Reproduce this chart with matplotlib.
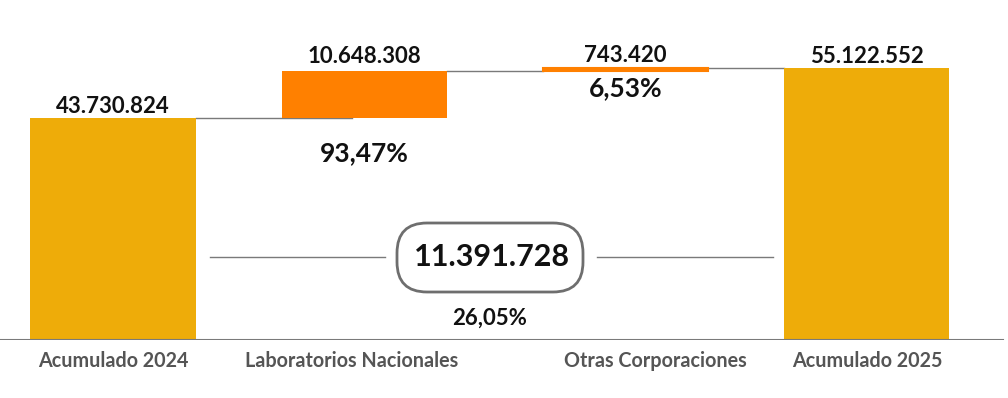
import matplotlib
matplotlib.use("Agg")
import matplotlib.pyplot as plt
from matplotlib.patches import FancyBboxPatch
from matplotlib.transforms import blended_transform_factory, IdentityTransform

# ---- data ----
categories = ["Acumulado 2024", "Laboratorios Nacionales", "Otras Corporaciones", "Acumulado 2025"]
start_total = 43730824
deltas = [10648308, 743420]          # Laboratorios Nacionales, Otras Corporaciones
end_total = 55122552
delta_pcts = ["93,47%", "6,53%"]
total_change = 11391728
total_change_pct = "26,05%"

# ---- style ----
GOLD = "#EEAC09"
ORANGE = "#FF8000"
LINE = "#7a7a7a"
TXT = "#111111"
CAT = "#555555"
FONT = "Lato"

W, H = 1008, 398
fig = plt.figure(figsize=(W / 100, H / 100), dpi=100)
fig.patch.set_facecolor("white")

BASE_PX = 340
K = 4.39e-6            # pixels per unit
FLOOR = -6.84e6        # value at the baseline
ax = fig.add_axes([0, (H - BASE_PX) / H, 1, BASE_PX / H])
ax.set_ylim(FLOOR, FLOOR + BASE_PX / K)
SP = 251.3
ax.set_xlim(-113 / SP, (W - 113) / SP)
ax.axis("off")

xpos = [0, 1, 2.04, 3]
bw = 0.657

# totals
tot_vals = [start_total, end_total]
for xi, v in zip([xpos[0], xpos[3]], tot_vals):
    ax.bar(xi, v - FLOOR, bottom=FLOOR, width=bw, color=GOLD, zorder=2)

# deltas
cum = start_total
tops = []
for i, d in enumerate(deltas):
    ax.bar(xpos[i + 1], d, bottom=cum, width=bw, color=ORANGE, edgecolor=ORANGE,
           linewidth=1.5 if i == 1 else 0, zorder=2)
    tops.append((cum, cum + d))
    cum += d

# connectors
ax.plot([xpos[0] + bw / 2, xpos[1] - 0.05], [start_total] * 2, color=LINE, lw=1, zorder=1)
ax.plot([xpos[1] + bw / 2, xpos[2] - bw / 2], [tops[0][1]] * 2, color=LINE, lw=1, zorder=1)
ax.plot([xpos[2] + bw / 2, xpos[3] - bw / 2], [tops[1][1]] * 2, color=LINE, lw=1, zorder=1)

# baseline
ax.axhline(FLOOR, xmin=0, xmax=1003 / W, color=LINE, lw=1.5, zorder=3)

def fmt(n):
    return f"{n:,}".replace(",", ".")

# value labels
lab_kw = dict(ha="center", va="baseline", fontsize=16, fontweight="bold", color=TXT, family=FONT)
ax.annotate(fmt(start_total), (xpos[0], start_total), xytext=(0, 5), textcoords="offset pixels", **lab_kw)
ax.annotate(fmt(end_total), (xpos[3], end_total), xytext=(0, 5), textcoords="offset pixels", **lab_kw)
for i, d in enumerate(deltas):
    ax.annotate(fmt(d), (xpos[i + 1], tops[i][1]), xytext=(0, 8 if i == 0 else 6),
                textcoords="offset pixels", **lab_kw)

# percentage labels under delta bars
pct_off = [-35, -17]
for i, p in enumerate(delta_pcts):
    ax.annotate(p, (xpos[i + 1], tops[i][0]), xytext=(0, pct_off[i]),
                textcoords="offset pixels", ha="center", va="center", fontsize=19,
                fontweight="bold", color=TXT, family=FONT)

# category labels
tr = blended_transform_factory(ax.transData, fig.transFigure)
label_dx = [0, -0.05, 0.12, 0]
for xi, c, dx in zip(xpos, categories, label_dx):
    ax.text(xi + dx, 1 - 367 / H, c, transform=tr, ha="center", va="baseline",
            fontsize=14.2, fontweight="bold", color=CAT, family=FONT)

# total change box
ident = IdentityTransform()
cy = H - 257
box = FancyBboxPatch((397, H - 292), 186, 69, boxstyle="round,pad=0,rounding_size=30",
                     transform=ident, fc="white", ec="#6e6e6e", lw=2, zorder=4)
fig.patches.append(box)
fig.add_artist(plt.Line2D([210, 385], [cy, cy], transform=ident, color=LINE, lw=1))
fig.add_artist(plt.Line2D([597, 773], [cy, cy], transform=ident, color=LINE, lw=1))
fig.text(492 / W, cy / H, fmt(total_change), ha="center", va="center", fontsize=22,
         fontweight="bold", color=TXT, family=FONT, zorder=5)
fig.text(490 / W, (H - 318) / H, total_change_pct, ha="center", va="center", fontsize=16,
         fontweight="bold", color=TXT, family=FONT)

fig.savefig("out.png", dpi=100, facecolor="white")
